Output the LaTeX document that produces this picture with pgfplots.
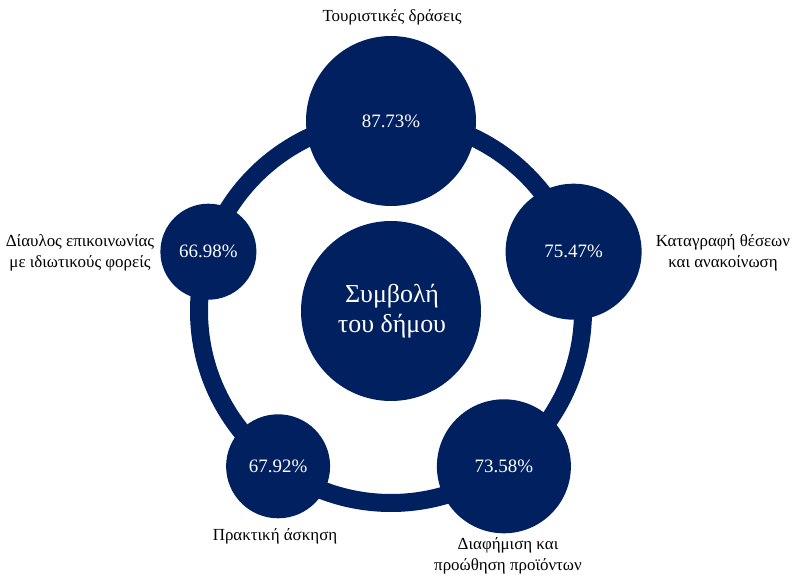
\documentclass[border=0pt]{standalone}
\usepackage{fontspec}
\setmainfont{Liberation Serif}
\usepackage{pgfplots}
\pgfplotsset{compat=1.18}
\definecolor{navy}{HTML}{002060}

% x, y: circle centre (px from the ring centre), v: value, r: circle radius (px)
\pgfplotstableread{
x      y       v      r
0      190     87.73  85
182.6  59.3    75.47  68
112.9  -155.3  73.58  67
-112.9 -155.3  67.92  52
-182.6 59.3    66.98  48
}\circles

\begin{document}
\begin{tikzpicture}
\begin{axis}[
    x=1bp, y=1bp,
    xmin=-391, xmax=404, ymin=-265, ymax=311,
    hide axis, clip=false,
    /pgf/number format/assume math mode=true,
]
\path (axis cs:-391,-265) rectangle (axis cs:404,311);
% ring and centre circle
\draw[navy, line width=18bp] (axis cs:0,0) circle[radius=192];
\fill[navy] (axis cs:0,0) circle[radius=90];
\node[white, font=\fontsize{26}{30}\selectfont, align=center] at (axis cs:1,0)
    {Συμβολή\\του δήμου};

% one filled disc per category, sized by r, with its value inside
\addplot[only marks, mark=none,
    point meta=\thisrow{v},
    visualization depends on={2*\thisrow{r} \as \dia},
    nodes near coords={\pgfmathprintnumber[fixed, precision=2, fixed zerofill]{\pgfplotspointmeta}\%},
    nodes near coords align=center,
    every node near coord/.append style={circle, fill=navy, inner sep=0pt,
        minimum size=\dia bp, text=white, font=\fontsize{19}{22}\selectfont},
] table[x=x, y=y] {\circles};

% category labels
\begin{scope}[every node/.style={font=\fontsize{17}{21}\selectfont, align=center, text=black}]
\node at (axis cs:1,294) {Τουριστικές δράσεις};
\node at (axis cs:332,58) {Καταγραφή θέσεων\\και ανακοίνωση};
\node at (axis cs:117,-245) {Διαφήμιση και\\προώθηση προϊόντων};
\node at (axis cs:-116,-225) {Πρακτική άσκηση};
\node at (axis cs:-311,58) {Δίαυλος επικοινωνίας\\με ιδιωτικούς φορείς};
\end{scope}
\end{axis}
\end{tikzpicture}
\end{document}
